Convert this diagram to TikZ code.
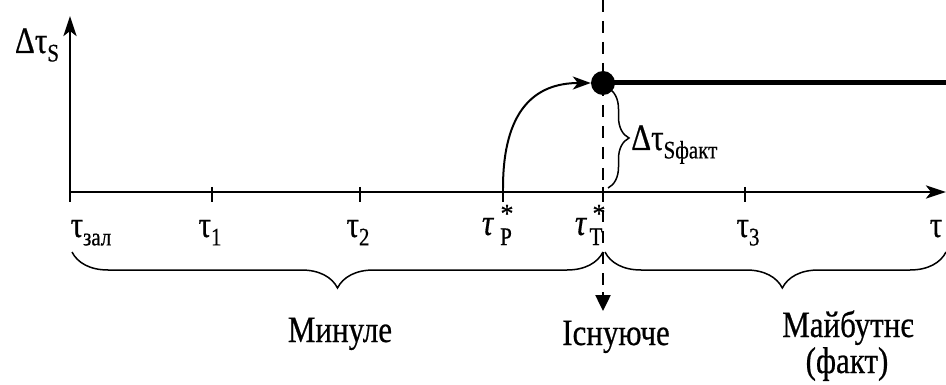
\documentclass[tikz,border=0pt]{standalone}
\usepackage{fontspec}
\setmainfont{Liberation Serif}[FakeBold=0.6]
\usetikzlibrary{arrows.meta,decorations.pathreplacing}
\newcommand\subfont{\fontsize{21}{21}\selectfont}
\newcommand\T[1]{\scalebox{1}[1.2]{#1}}
\newcommand\ssub[1]{\raisebox{-7pt}{\subfont #1}}
\begin{document}
\begin{tikzpicture}[x=1pt,y=-1pt,
  every node/.style={font=\fontsize{31}{34}\selectfont, inner sep=0pt},
  axis/.style={line width=2.7pt},
  tick/.style={line width=1.5pt},
  lbl/.style={anchor=base},
  sublbl/.style={anchor=base, font=\subfont},
  starlbl/.style={anchor=base, font=\fontsize{26}{26}\selectfont},
  dsh/.style={line width=2.5pt, dash pattern=on 12pt off 9pt},
  brc/.style={decorate, line width=1.5pt, decoration={brace, amplitude=#1}},
  brc/.default=36pt]
\useasboundingbox (0,0) rectangle (946,385);
% axes
\coordinate (O) at (70,192);
\coordinate (Ytop) at (70,16);
\coordinate (Xend) at (946,192);
\draw[axis, -{Stealth[length=20pt,width=13pt,inset=5pt]}] (O) -- (Ytop);
\draw[axis, -{Stealth[length=20pt,width=13pt,inset=5pt]}] (O) -- (Xend);
% ticks
\foreach \n/\x in {t0/70,t1/212,t2/360,tp/503,tt/603,t3/745}{
  \coordinate (\n) at (\x,192);
  \draw[tick] (\x,187) -- (\x,202);
}
% tick labels
\node[lbl] (L0) at (91,237) {\T{τ\ssub{зал}}};
\node[lbl] (L1) at (210,237) {\T{τ\ssub{1}}};
\node[lbl] (L2) at (358,237) {\T{τ\ssub{2}}};
\node[lbl] (LP) at (488,235) {\T{\textit{τ}}};
\node[starlbl] (SP) at (507,222) {*};
\node[sublbl] (PP) at (506,245) {\T{P}};
\node[lbl] (LT) at (581,235) {\T{\textit{τ}}};
\node[starlbl] (ST) at (599,222) {*};
\node[sublbl] (PT) at (596,245) {\T{T}};
\node[lbl] (L3) at (748,237) {\T{τ\ssub{3}}};
\node[lbl] (Lt) at (936,237) {\T{τ}};
% y-axis label
\node[lbl] (LY) at (37,53) {\T{Δτ\ssub{S}}};
% dashed vertical
\coordinate (Dtop) at (603,0);
\coordinate (Dbot) at (603,311);
\draw[dsh] (Dtop) -- (603,294);
\draw[line width=2.5pt, -{Triangle[length=16pt,width=15pt]}] (603,292) -- (Dbot);
% dot and thick line
\node[circle, fill=black, minimum size=24pt] (dot) at (603,83) {};
\coordinate (Hend) at (946,83);
\draw[line width=5pt] (dot.center) -- (Hend);
% curved arrow
\coordinate (cs) at (503,188);
\draw[line width=2pt, -{Stealth[length=18pt,width=13pt,inset=5pt]}] (cs) .. controls (503,110) and (535,83) .. (dot.west);
% vertical brace
\draw[brc=21pt] (608,88) -- (608,188);
\node[anchor=base west] (Lfakt) at (631,150) {\T{Δτ\ssub{Sфакт}}};
% lower braces
\draw[brc, decoration={mirror}] (72,252) -- (603,252);
\draw[brc, decoration={mirror,aspect=0.52}] (605,252) -- (946,252);
\node[lbl] (Lpast) at (340,342) {\T{Минуле}};
\node[lbl] (Lnow) at (616,345) {\T{Існуюче}};
\node[lbl] (Lfut) at (848,337) {\T{Майбутнє}};
\node[lbl] (Lfut2) at (847,373) {\T{(факт)}};
\end{tikzpicture}
\end{document}
